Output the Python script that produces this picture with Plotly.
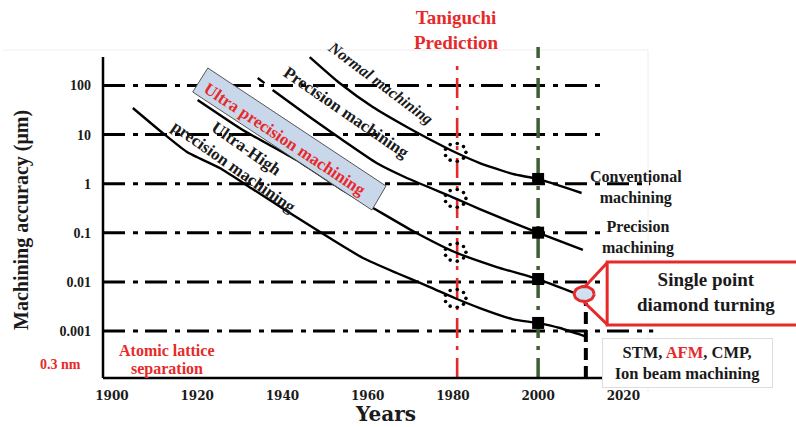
import numpy as np
import plotly.graph_objects as go

# ---------------- data ----------------
YEAR_TICKS = [1900, 1920, 1940, 1960, 1980, 2000, 2020]
ACCURACY_TICKS = [100, 10, 1, 0.1, 0.01, 0.001]
ACCURACY_TICK_LABELS = ["100", "10", "1", "0.1", "0.01", "0.001"]

NORMAL_YEARS = [1946.4, 1953.4, 1961.2, 1969.2, 1976.2, 1980.9, 1986.3, 1994.0, 1999.9, 2010.2]
NORMAL_UM = [380, 112.5, 36.5, 14.3, 6.75, 4.22, 2.64, 1.58, 1.25, 0.647]

PRECISION_DASH_YEARS = [1934.2, 1935.8]
PRECISION_DASH_UM = [142, 112]
PRECISION_YEARS = [1937.7, 1946.4, 1954.1, 1962.1, 1968.7, 1980.4, 1986.3, 1994.0, 1999.9, 2010.5]
PRECISION_UM = [80.9, 22.8, 7.76, 2.64, 1.37, 0.511, 0.305, 0.161, 0.1007, 0.0447]

ULTRA_YEARS = [1920.1, 1930.7, 1943.3, 1954.1, 1962.1, 1970.6, 1980.4, 1990.3, 1999.9, 2008.6]
ULTRA_UM = [50.7, 12.4, 3.04, 0.745, 0.291, 0.109, 0.0407, 0.0201, 0.01145, 0.00594]

ULTRA_HIGH_YEARS = [1904.9, 1911.9, 1917.6, 1925.3, 1933.0, 1941.0, 1951.1, 1958.9, 1966.8,
                    1974.6, 1980.4, 1986.3, 1994.0, 1999.7, 2005.1, 2010.9]
ULTRA_HIGH_UM = [34.9, 10.8, 4.43, 2.09, 0.78, 0.278, 0.0783, 0.0307, 0.0152,
                 0.00787, 0.0047, 0.00294, 0.00175, 0.00146, 0.00115, 0.00079]

TANIGUCHI_YEAR = 1981
MILESTONE_YEAR = 2000
SQUARE_UM = [1.25, 0.1007, 0.01145, 0.00146]

SPDT_YEAR = 2010.8
SPDT_UM = 0.00568
LIMIT_YEAR = 2011.2

# Ultra precision machining band (rotated box corners)
BOX_YEARS = [1922.5, 1964.3, 1961.0, 1918.95]
BOX_UM = [227, 0.897, 0.291, 73.8]

GRID_END_YEARS = [2015.0, 2015.0, 2026.3, 2015.0, 2015.0, 2027.0]

# ---------------- layout geometry ----------------
W, H = 796, 427
L, R, T, B = 98, 0, 40, 44
PW, PH = W - L - R, H - T - B
X_RANGE = [1896.727, 2060.51]
Y_RANGE = [-4.0588, 2.927]
X_AXIS_START = 1897.9
AXIS_END_YEAR = 2015.0
Y_AXIS_BOTTOM = -3.957
Y_AXIS_TOP = 2.58
PX_PER_YEAR = PW / (X_RANGE[1] - X_RANGE[0])
PX_PER_DECADE = PH / (Y_RANGE[1] - Y_RANGE[0])

RED = "#e62a2a"
TXT = "#1a1a1a"
SERIF = "Liberation Serif"


def pp(xpx, ypx):
    return (xpx - L) / PW, (H - B - ypx) / PH


def log_interp(year, years, vals):
    return 10 ** np.interp(year, years, np.log10(vals))


def ring(year, val, rx, ry, n):
    """Points of an ellipse of pixel radii rx, ry around a data point."""
    t = np.linspace(0, 2 * np.pi, n, endpoint=False)
    xs = year + rx * np.cos(t) / PX_PER_YEAR
    ys = 10 ** (np.log10(val) + ry * np.sin(t) / PX_PER_DECADE)
    return xs, ys


fig = go.Figure()

curve_style = dict(mode="lines", line=dict(color="black", width=2.4, shape="spline", smoothing=0.5),
                   hoverinfo="skip", showlegend=False)
fig.add_trace(go.Scatter(x=NORMAL_YEARS, y=NORMAL_UM, **curve_style))
fig.add_trace(go.Scatter(x=PRECISION_DASH_YEARS, y=PRECISION_DASH_UM, **curve_style))
fig.add_trace(go.Scatter(x=PRECISION_YEARS, y=PRECISION_UM, **curve_style))
fig.add_trace(go.Scatter(x=ULTRA_YEARS, y=ULTRA_UM, **curve_style))
fig.add_trace(go.Scatter(x=ULTRA_HIGH_YEARS, y=ULTRA_HIGH_UM, **curve_style))

# ultra precision band
fig.add_trace(go.Scatter(x=BOX_YEARS + BOX_YEARS[:1], y=BOX_UM + BOX_UM[:1], mode="lines",
                         fill="toself", fillcolor="#c9d7ea", line=dict(color="#555555", width=1),
                         hoverinfo="skip", showlegend=False))

# Taniguchi prediction: dotted rings on each curve
for yrs, vals in [(NORMAL_YEARS, NORMAL_UM), (PRECISION_YEARS, PRECISION_UM),
                  (ULTRA_YEARS, ULTRA_UM), (ULTRA_HIGH_YEARS, ULTRA_HIGH_UM)]:
    cx = TANIGUCHI_YEAR - 0.4
    rx, ry = ring(cx, log_interp(cx, yrs, vals), 10.5, 9, 9)
    fig.add_trace(go.Scatter(x=rx, y=ry, mode="markers",
                             marker=dict(symbol="circle", size=3.6, color="black"),
                             hoverinfo="skip", showlegend=False))

# milestone squares at 2000
fig.add_trace(go.Scatter(x=[MILESTONE_YEAR] * len(SQUARE_UM), y=SQUARE_UM, mode="markers",
                         marker=dict(symbol="square", size=12, color="black"),
                         hoverinfo="skip", showlegend=False))

shapes = []
GRID_DASH = "22px,8px,5px,7px"
for val, xend in zip(ACCURACY_TICKS, GRID_END_YEARS):
    shapes.append(dict(type="line", xref="x", yref="y", x0=X_AXIS_START, x1=xend, y0=val, y1=val,
                       line=dict(color="black", width=3, dash=GRID_DASH), layer="below"))
shapes.append(dict(type="line", xref="x", yref="y", x0=TANIGUCHI_YEAR, x1=TANIGUCHI_YEAR,
                   y0=10 ** Y_AXIS_BOTTOM, y1=262, line=dict(color=RED, width=2.6, dash="20px,8px,4px,8px"),
                   layer="below"))
shapes.append(dict(type="line", xref="x", yref="y", x0=MILESTONE_YEAR, x1=MILESTONE_YEAR,
                   y0=10 ** Y_AXIS_BOTTOM, y1=608, line=dict(color="#3d5f33", width=3.5, dash="20px,8px,4px,8px"),
                   layer="below"))
# axes
shapes.append(dict(type="line", xref="x", yref="y", x0=X_AXIS_START, x1=AXIS_END_YEAR,
                   y0=10 ** Y_AXIS_BOTTOM, y1=10 ** Y_AXIS_BOTTOM, line=dict(color="black", width=2.5)))
shapes.append(dict(type="line", xref="x", yref="y", x0=X_AXIS_START, x1=X_AXIS_START,
                   y0=10 ** Y_AXIS_BOTTOM, y1=10 ** Y_AXIS_TOP, line=dict(color="black", width=2.5)))
# limit dashed vertical line
shapes.append(dict(type="line", xref="x", yref="y", x0=LIMIT_YEAR, x1=LIMIT_YEAR,
                   y0=10 ** Y_AXIS_BOTTOM, y1=0.00372, line=dict(color="black", width=4, dash="12px,6px")))
# callout box and pointer
shapes.append(dict(type="rect", xref="x", yref="y", x0=2016.2, x1=2070, y0=0.001324, y1=0.0254,
                   line=dict(color=RED, width=3), fillcolor="white"))
shapes.append(dict(type="line", xref="x", yref="y", x0=2016.2, x1=2010.9, y0=0.0245, y1=0.00787,
                   line=dict(color=RED, width=3)))
shapes.append(dict(type="line", xref="x", yref="y", x0=2016.2, x1=2010.7, y0=0.00137, y1=0.00395,
                   line=dict(color=RED, width=3)))
# faint outer frame
fx0, fy0 = pp(3, 50)
fx1, fy1 = pp(648, 392)
shapes.append(dict(type="path", xref="paper", yref="paper",
                   path=f"M{fx0},{fy0} L{fx1},{fy0} L{fx1},{fy1}",
                   line=dict(color="#eeeeee", width=1), layer="below"))

# single point diamond turning marker (ellipse)
ex, ey = ring(SPDT_YEAR, SPDT_UM, 10, 7.5, 40)
fig.add_trace(go.Scatter(x=list(ex) + [ex[0]], y=list(ey) + [ey[0]], mode="lines", fill="toself",
                         fillcolor="#cfe0f0", line=dict(color=RED, width=3),
                         hoverinfo="skip", showlegend=False))

annotations = []


def ann(text, xpx, ypx, size, color=TXT, angle=0, family=SERIF, xanchor="center", **kw):
    x, y = pp(xpx, ypx)
    annotations.append(dict(text=text, x=x, y=y, xref="paper", yref="paper", showarrow=False,
                            xanchor=xanchor, yanchor="middle", textangle=angle,
                            font=dict(family=family, size=size, color=color, weight="bold"), **kw))


ann("Taniguchi<br>Prediction", 456, 30, 19, color=RED)
ann("<i>Normal machining</i>", 380, 83, 16, angle=37)
ann("Precision machining", 346, 113, 17, angle=34.5)
ann("Ultra-High<br>precision machining", 240, 157, 17, angle=35)
ann("Ultra precision machining", 285, 139, 17, color=RED, angle=33.5)
ann("Conventional<br>machining", 636, 187, 16)
ann("Precision<br>machining", 638, 238, 16)
ann("Single point<br>diamond turning", 706, 292, 19)
ann("STM, <span style='color:#e62a2a'>AFM</span>, CMP,<br>Ion beam machining", 687.5, 363, 16.5,
    bgcolor="white", bordercolor="#dddddd", borderwidth=1, borderpad=2, width=165, height=44)
ann("Atomic lattice", 167, 350, 16, color=RED)
ann("separation", 167, 369, 16, color=RED)
ann("0.3 nm", 83, 364, 14, color=RED, xanchor="right")
ann("Machining accuracy (μm)", 22, 220, 20, angle=-90)
ann("Years", 385, 414, 20, family="DejaVu Serif")

fig.update_layout(
    width=W, height=H, margin=dict(l=L, r=R, t=T, b=B, pad=0),
    paper_bgcolor="white", plot_bgcolor="white", showlegend=False,
    shapes=shapes, annotations=annotations,
    xaxis=dict(range=X_RANGE, tickvals=YEAR_TICKS, ticktext=[str(v) for v in YEAR_TICKS],
               showgrid=False, zeroline=False, showline=False, ticks="",
               tickfont=dict(family="DejaVu Serif", size=12, color=TXT, weight="bold"),
               ticklabelstandoff=4, fixedrange=True),
    yaxis=dict(type="log", range=Y_RANGE, tickvals=ACCURACY_TICKS, ticktext=ACCURACY_TICK_LABELS,
               showgrid=False, zeroline=False, showline=False, ticks="",
               tickfont=dict(family=SERIF, size=14, color=TXT, weight="bold"),
               ticklabelstandoff=6, fixedrange=True),
)

fig.write_html("out.html")
